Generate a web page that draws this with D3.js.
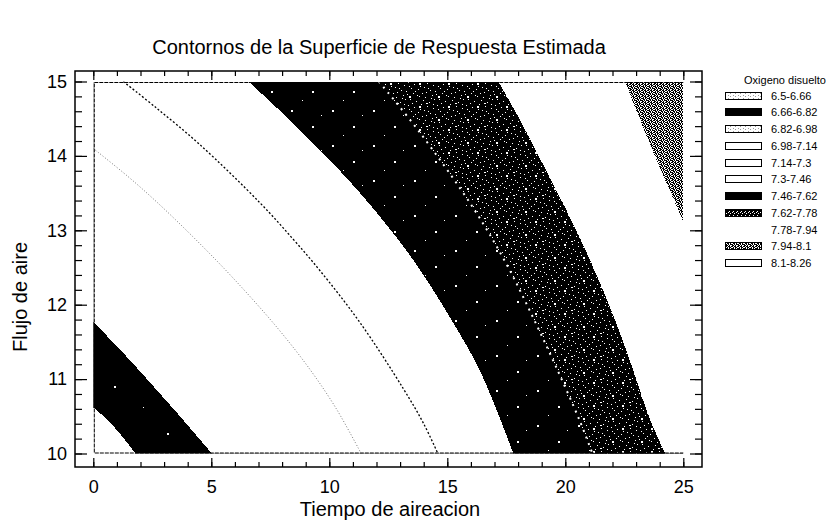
<!DOCTYPE html>
<html>
<head>
<meta charset="utf-8">
<script src="https://cdn.jsdelivr.net/npm/d3@7"></script>
<style>
  body { margin: 0; background: #fff; }
  text { font-family: "Liberation Sans", Arial, sans-serif; fill: #000; }
</style>
</head>
<body>
<script>

// contour levels (Oxigeno disuelto)
var levels = [6.5, 6.66, 6.82, 6.98, 7.14, 7.3, 7.46, 7.62, 7.78, 7.94, 8.1, 8.26];
var legendLabels = ["6.5-6.66", "6.66-6.82", "6.82-6.98", "6.98-7.14", "7.14-7.3", "7.3-7.46",
  "7.46-7.62", "7.62-7.78", "7.78-7.94", "7.94-8.1", "8.1-8.26"];

var xTicks = [0, 5, 10, 15, 20, 25];
var yTicks = [10, 11, 12, 13, 14, 15];

// contour lines: [tiempo, flujo]
var c666 = [[0, 10.62], [0.6, 10.45], [1.2, 10.24], [1.78, 10]];
var c682 = [[0, 11.77], [1.3, 11.34], [2.5, 10.92], [3.7, 10.49], [5.02, 10]];
var c714 = [[0, 14.1], [1.48, 13.72], [2.69, 13.38], [4.2, 12.92], [5.86, 12.38], [7.77, 11.7],
  [9.18, 11.13], [10.3, 10.6], [11.35, 10]];
var c730 = [[1.27, 15], [2.69, 14.64], [4.52, 14.15], [7.06, 13.37], [8.47, 12.88], [9.6, 12.46],
  [11.3, 11.76], [13.14, 10.87], [14.0, 10.4], [14.6, 10]];
var c746 = [[6.57, 15], [8.33, 14.48], [10.45, 13.8], [12.0, 13.24], [13.56, 12.6], [15.11, 11.83],
  [16.4, 11.1], [17.8, 10]];
var c762 = [[12.1, 15], [13.8, 14.33], [16.1, 13.3], [17.5, 12.55], [18.6, 11.85], [19.6, 11.17],
  [20.6, 10.45], [21.15, 10]];
var c778 = [[17.16, 15], [18.05, 14.5], [18.95, 13.95], [20.0, 13.3], [21.05, 12.6], [22.1, 11.8],
  [22.9, 11.1], [23.6, 10.45], [24.23, 10]];
var c794 = [[22.53, 15], [23.73, 14.05], [25, 13.12]];

var width = 831, height = 525;

var svg = d3.select('body').append('svg')
  .attr('width', width).attr('height', height);

var x = d3.scaleLinear().domain([0, 25]).range([93.3, 683.3]);
var y = d3.scaleLinear().domain([10, 15]).range([453.5, 81.5]);

// ---- patterns (scanned textures)
var defs = svg.append('defs');

var makePattern = function(id, w, h, bg, fg, rects) {
  var p = defs.append('pattern').attr('id', id)
    .attr('patternUnits', 'userSpaceOnUse')
    .attr('width', w).attr('height', h);
  p.append('rect').attr('width', w).attr('height', h).attr('fill', bg);
  rects.forEach(function(r) {
    p.append('rect').attr('x', r[0]).attr('y', r[1])
      .attr('width', r[2] || 1).attr('height', r[3] || 1).attr('fill', fg);
  });
};

var fromRows = function(rows) {
  var out = [];
  rows.forEach(function(row, j) {
    for (var i = 0; i < row.length; i++) {
      if (row[i] === '1') out.push([i, j, 1, 1]);
    }
  });
  return out;
};

makePattern('solidDark', 53, 47, '#000', '#fff', [[8, 10, 2, 2], [37, 31, 1, 1]]);
makePattern('sparse', 41, 35, '#000', '#fff', [[4, 5, 2, 2], [25, 21, 2, 2], [15, 30, 1, 1], [34, 10, 1, 1]]);
makePattern('dense', 29, 23, '#000', '#fff', [
  [1, 2], [7, 1], [13, 4], [20, 0], [26, 3], [4, 7], [10, 9], [17, 8], [23, 10], [28, 7],
  [2, 13], [8, 15], [15, 12], [21, 14], [27, 16], [5, 19], [12, 20], [18, 18], [24, 21], [0, 22],
  [11, 3], [19, 5], [6, 11], [25, 6], [14, 17], [3, 17], [22, 19], [9, 22], [16, 1], [27, 12],
  [13, 14, 2, 2], [3, 4, 2, 2], [20, 11, 2, 1]
]);
makePattern('grey', 6, 6, '#fff', '#000', fromRows([
  "101101",
  "010110",
  "110101",
  "011010",
  "101011",
  "110100"
]));
makePattern('light', 5, 3, '#fff', '#999', [[0, 0, 1, 1], [3, 2, 1, 1]]);
makePattern('darkStip', 4, 4, '#000', '#fff', [[0, 0, 1, 1], [2, 1, 1, 1], [1, 3, 1, 1]]);

defs.append('clipPath').attr('id', 'plotClip')
  .append('rect')
  .attr('x', x(0)).attr('y', y(15))
  .attr('width', x(25) - x(0)).attr('height', y(10) - y(15));

// ---- filled bands, painted from low level to high
var plot = svg.append('g').attr('clip-path', 'url(#plotClip)');

plot.append('rect')
  .attr('x', x(0)).attr('y', y(15))
  .attr('width', x(25) - x(0)).attr('height', y(10) - y(15))
  .attr('fill', '#fff');

var curve = d3.line()
  .x(function(d) { return x(d[0]); })
  .y(function(d) { return y(d[1]); })
  .curve(d3.curveCatmullRom);

// region on the high side of a contour line (toward top right)
var regionPath = function(pts) {
  var s = curve(pts);
  var first = pts[0], last = pts[pts.length - 1];
  if (last[1] === 10) s += 'L' + x(25) + ',' + y(10);
  s += 'L' + x(25) + ',' + y(15);
  if (first[0] === 0) s += 'L' + x(0) + ',' + y(15);
  return s + 'Z';
};

var bands = [
  { line: c666, fill: 'url(#solidDark)' },
  { line: c682, fill: '#fff' },
  { line: c746, fill: 'url(#sparse)' },
  { line: c762, fill: 'url(#dense)' },
  { line: c778, fill: '#fff' },
  { line: c794, fill: 'url(#grey)' }
];

plot.selectAll('path.band')
  .data(bands)
  .enter()
  .append('path')
  .attr('class', 'band')
  .attr('d', function(d) { return regionPath(d.line); })
  .attr('fill', function(d) { return d.fill; })
  .attr('shape-rendering', 'crispEdges');

// dotted contour lines inside the white area and black area
plot.append('path').attr('d', curve(c714))
  .attr('fill', 'none').attr('stroke', '#777')
  .attr('stroke-width', 1).attr('stroke-dasharray', '1,2');
plot.append('path').attr('d', curve(c730))
  .attr('fill', 'none').attr('stroke', '#000')
  .attr('stroke-width', 1.3).attr('stroke-dasharray', '2,2');
plot.append('path').attr('d', curve(c762))
  .attr('fill', 'none').attr('stroke', '#fff')
  .attr('stroke-width', 2).attr('stroke-dasharray', '2,5');

// dashed edge of the gridded area
svg.append('path')
  .attr('d', 'M' + (x(25)) + ',' + (y(15) + 1) + 'H' + (x(0) + 1) + 'V' + (y(10) - 0.5) + 'H' + x(25))
  .attr('fill', 'none').attr('stroke', '#000')
  .attr('stroke-width', 1).attr('stroke-dasharray', '4,1');

// ---- frame and axes
var frame = { left: 75, right: 702, top: 71, bottom: 467 };

svg.append('rect')
  .attr('x', frame.left).attr('y', frame.top)
  .attr('width', frame.right - frame.left).attr('height', frame.bottom - frame.top)
  .attr('fill', 'none').attr('stroke', '#000').attr('stroke-width', 1.5);

var xMinor = d3.range(0, 26, 1);
var yMinor = d3.range(10, 15.01, 0.2);

var addAxis = function(axis, tx, ty) {
  var g = svg.append('g').attr('transform', 'translate(' + tx + ',' + ty + ')').call(axis);
  g.select('.domain').remove();
  g.selectAll('line').attr('stroke', '#000').attr('stroke-width', 1.2);
  return g;
};

// bottom
addAxis(d3.axisBottom(x).tickValues(xMinor).tickFormat('').tickSize(-5), 0, frame.bottom);
addAxis(d3.axisBottom(x).tickValues(xTicks).tickFormat(d3.format('d')).tickSize(-9).tickPadding(13), 0, frame.bottom)
  .selectAll('text').attr('font-size', 18).attr('font-family', '"Liberation Sans", Arial, sans-serif');
// top
addAxis(d3.axisTop(x).tickValues(xMinor).tickFormat('').tickSize(-5), 0, frame.top);
addAxis(d3.axisTop(x).tickValues(xTicks).tickFormat('').tickSize(-9), 0, frame.top);
// left
addAxis(d3.axisLeft(y).tickValues(yMinor).tickFormat('').tickSize(-7), frame.left, 0);
addAxis(d3.axisLeft(y).tickValues(yTicks).tickFormat(d3.format('d')).tickSize(-12).tickPadding(8), frame.left, 0)
  .selectAll('text').attr('font-size', 18).attr('font-family', '"Liberation Sans", Arial, sans-serif');
// right
addAxis(d3.axisRight(y).tickValues(yMinor).tickFormat('').tickSize(-7), frame.right, 0);
addAxis(d3.axisRight(y).tickValues(yTicks).tickFormat('').tickSize(-12), frame.right, 0);

// ---- titles
svg.append('text')
  .attr('x', 379).attr('y', 54)
  .attr('text-anchor', 'middle').attr('font-size', 20)
  .text('Contornos de la Superficie de Respuesta Estimada');

svg.append('text')
  .attr('x', 390).attr('y', 516)
  .attr('text-anchor', 'middle').attr('font-size', 20)
  .text('Tiempo de aireacion');

svg.append('text')
  .attr('transform', 'translate(27,297) rotate(-90)')
  .attr('text-anchor', 'middle').attr('font-size', 20)
  .text('Flujo de aire');

// ---- legend
var legendFill = ['url(#light)', '#000', 'url(#light)', '#fff', '#fff', '#fff',
  'url(#sparse)', 'url(#darkStip)', null, 'url(#grey)', '#fff'];

var legend = svg.append('g');

legend.append('text')
  .attr('x', 785).attr('y', 84)
  .attr('text-anchor', 'middle').attr('font-size', 11)
  .text('Oxigeno disuelto');

var rowY = function(i) { return 95.5 + i * 16.75; };

var rows = legend.selectAll('g.row')
  .data(legendLabels)
  .enter()
  .append('g')
  .attr('class', 'row');

rows.filter(function(d, i) { return legendFill[i] !== null; })
  .append('rect')
  .attr('x', 725).attr('y', function(d) { return rowY(legendLabels.indexOf(d)) - 3.5; })
  .attr('width', 36).attr('height', 7)
  .attr('fill', function(d) { return legendFill[legendLabels.indexOf(d)]; })
  .attr('stroke', '#000').attr('stroke-width', 1)
  .attr('shape-rendering', 'crispEdges');

rows.append('text')
  .attr('x', 771).attr('y', function(d, i) { return rowY(i) + 4; })
  .attr('font-size', 11)
  .text(function(d) { return d; });

</script>
</body>
</html>
